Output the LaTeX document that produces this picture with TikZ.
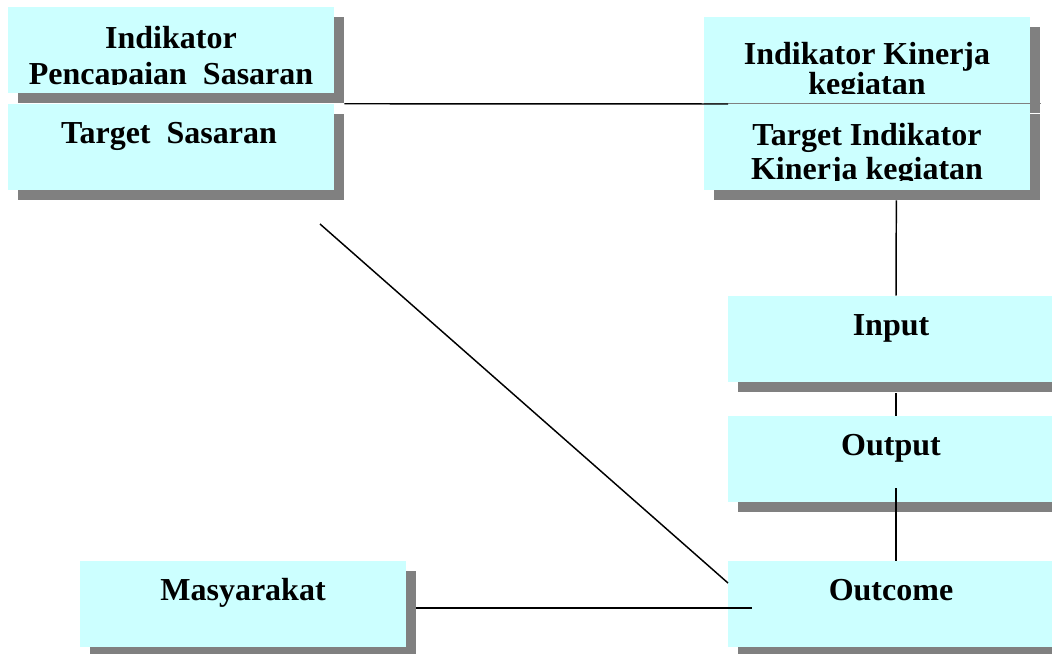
\documentclass[tikz,border=0pt]{standalone}
\usepackage{fontspec}
\setmainfont{Liberation Serif}
\usetikzlibrary{shadows}
\definecolor{boxcyan}{HTML}{CCFFFF}
\definecolor{shadowgray}{HTML}{808080}
\begin{document}
\begin{tikzpicture}[x=0.75pt,y=-0.75pt,
  box/.style={fill=boxcyan, draw=none, minimum width=244.5pt, minimum height=64.5pt, inner sep=0pt,
    general shadow={fill=shadowgray, shadow xshift=7.5pt, shadow yshift=-7.5pt}},
  lbl/.style={anchor=base, inner sep=0pt, font=\bfseries\fontsize{24}{26}\selectfont},
  conn/.style={line width=1.1pt, black},
  sep/.style={line width=0.8pt, shadowgray}]
\clip (0,0) rectangle (1052,653);
% boxes
\node[box] (b1) at (171,50) {};
\node[box] (b2) at (171,147) {};
\node[box] (b3) at (867,60) {};
\node[box] (b4) at (867,147) {};
\node[box] (in) at (891,339) {};
\node[box] (out) at (891,459) {};
\node[box] (oc) at (891,604) {};
\node[box] (m) at (243,604) {};
% labels (clipped at the text frame)
\begin{scope}
  \clip (b1.north west) rectangle ([yshift=6.75pt]b1.south east);
  \node[lbl] (t1a) at (171,48) {Indikator};
  \node[lbl] (t1b) at (171,84) {Pencapaian\ \ Sasaran};
\end{scope}
\node[lbl] (t2) at (169,143) {Target\ \ Sasaran};
\begin{scope}
  \clip (b3.north west) rectangle ([yshift=7pt]b3.south east);
  \node[lbl] (t3a) at (867,64) {Indikator Kinerja};
  \node[lbl] (t3b) at (867,94) {kegiatan};
\end{scope}
\begin{scope}
  \clip (b4.north west) rectangle ([yshift=7pt]b4.south east);
  \node[lbl] (t4a) at (867,145) {Target Indikator};
  \node[lbl] (t4b) at (867,179) {Kinerja kegiatan};
\end{scope}
\node[lbl] (tin) at (891,335) {Input};
\node[lbl] (tout) at (891,455) {Output};
\node[lbl] (toc) at (891,600) {Outcome};
\node[lbl] (tm) at (243,600) {Masyarakat};
% separator between b3 and b4
\draw[sep] ([yshift=0.4pt]b4.north west) -- ([xshift=8pt,yshift=0.4pt]b4.north east);
% connectors
\coordinate (c1) at (728,104);
\draw[conn] ([xshift=7.5pt]b2.north east) -- (c1);
\draw[conn] ([xshift=22pt,yshift=-7.5pt]b4.south) -- ([xshift=3.75pt]in.north);
\draw[conn] ([xshift=3.75pt,yshift=-8.25pt]in.south) -- ([xshift=3.75pt]out.north);
\coordinate (c3) at (896,488);
\draw[conn] (c3) -- ([xshift=3.75pt]oc.north);
\coordinate (dstart) at (320,224);
\coordinate (dend) at (728,583);
\draw[conn] (dstart) -- (dend);
\coordinate (c2) at (752,608);
\draw[conn] ([xshift=7.5pt,yshift=-3pt]m.east) -- (c2);
\end{tikzpicture}
\end{document}
